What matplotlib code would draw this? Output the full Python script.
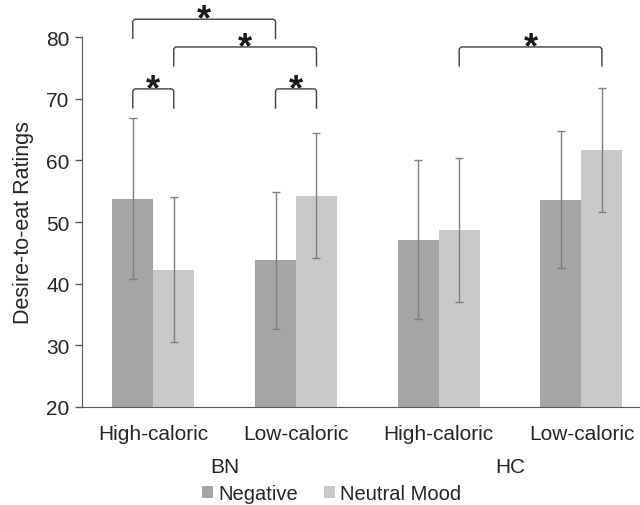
import matplotlib
matplotlib.use("Agg")
import matplotlib.pyplot as plt
from matplotlib.path import Path
from matplotlib.patches import PathPatch
import numpy as np

plt.rcParams['font.family'] = ['Liberation Sans', 'DejaVu Sans']

foods = ["High-caloric", "Low-caloric", "High-caloric", "Low-caloric"]
groups = ["BN", "HC"]
negative = [53.8, 43.8, 47.1, 53.6]
negative_err = [13.0, 11.1, 12.9, 11.1]
neutral = [42.3, 54.3, 48.7, 61.7]
neutral_err = [11.7, 10.1, 11.7, 10.1]
# significance brackets: (bar from, bar to, top of bracket)
brackets = [
    ((0, "neg"), (1, "neg"), 82.9),
    ((0, "neu"), (1, "neu"), 78.4),
    ((0, "neg"), (0, "neu"), 71.6),
    ((1, "neg"), (1, "neu"), 71.6),
    ((2, "neu"), (3, "neu"), 78.4),
]

c_neg = "#a5a5a8"
c_neu = "#c8c9cb"
c_err = "#7f7f7f"
c_axis = "#595959"
c_text = "#262626"
fs = 15

fig = plt.figure(figsize=(6.4, 5.06), dpi=100)
ax = fig.add_axes([0.128, 0.1937, 0.892, 0.731])

x = np.arange(len(foods))
w = 0.287
off = w / 2
ax.bar(x - off, negative, w, bottom=0, color=c_neg, label="Negative", zorder=2)
ax.bar(x + off, neutral, w, bottom=0, color=c_neu, label="Neutral Mood", zorder=2)
ax.errorbar(x - off, negative, yerr=negative_err, fmt="none", ecolor=c_err,
            elinewidth=1.0, capsize=3, capthick=1.0, zorder=3)
ax.errorbar(x + off, neutral, yerr=neutral_err, fmt="none", ecolor=c_err,
            elinewidth=1.0, capsize=3, capthick=1.0, zorder=3)

ax.set_xlim(-0.5, 3.5)
ax.set_ylim(20, 80)
ax.set_yticks(range(20, 81, 10))
ax.set_xticks(x)
ax.set_xticklabels(foods)
ax.tick_params(axis="x", length=0, pad=12, labelsize=fs, labelcolor=c_text)
ax.tick_params(axis="y", length=5, width=1, color=c_axis, labelsize=fs,
               labelcolor=c_text, pad=4)
for s in ["top", "right"]:
    ax.spines[s].set_visible(False)
ax.spines["left"].set_color(c_axis)
ax.spines["bottom"].set_color(c_axis)
ax.set_ylabel("Desire-to-eat Ratings", fontsize=15.5, color=c_text, labelpad=9)

for i, g in enumerate(groups):
    ax.text(2 * i + 0.5, -0.16, g, transform=ax.get_xaxis_transform(),
            ha="center", va="center", fontsize=fs, color=c_text)


def bar_x(b):
    i, kind = b
    return i - off if kind == "neg" else i + off


rx, ry = 0.02, 0.5
for b0, b1, top in brackets:
    x0, x1 = bar_x(b0), bar_x(b1)
    bottom = top - 3.2
    verts = [(x0, bottom), (x0, top - ry), (x0, top), (x0 + rx, top),
             (x1 - rx, top), (x1, top), (x1, top - ry), (x1, bottom)]
    codes = [Path.MOVETO, Path.LINETO, Path.CURVE3, Path.CURVE3,
             Path.LINETO, Path.CURVE3, Path.CURVE3, Path.LINETO]
    ax.add_patch(PathPatch(Path(verts, codes), fill=False, edgecolor="#404040",
                           linewidth=1.0, clip_on=False, zorder=4))
    ax.text((x0 + x1) / 2, top - 0.1, "*", ha="center", va="center",
            fontsize=26, fontweight="bold", color="#1a1a1a", clip_on=False)

fig.legend(loc="center", bbox_to_anchor=(0.518, 0.022), ncol=2, frameon=False,
           fontsize=14.5, handlelength=0.55, handleheight=0.55, handletextpad=0.25,
           columnspacing=1.3, labelcolor=c_text)

fig.savefig("out.png", dpi=100)
